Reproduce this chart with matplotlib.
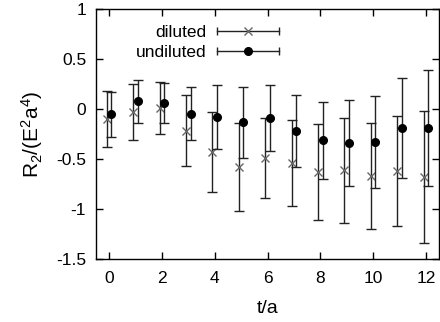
import numpy as np
import matplotlib
matplotlib.use("Agg")
import matplotlib.pyplot as plt
from matplotlib.legend_handler import HandlerBase
from matplotlib.lines import Line2D

plt.rcParams['font.family'] = ['Liberation Sans', 'DejaVu Sans']
plt.rcParams['mathtext.fontset'] = 'custom'
plt.rcParams['mathtext.rm'] = 'Liberation Sans'
plt.rcParams['mathtext.it'] = 'Liberation Sans'

# data
t = np.arange(0, 13)
diluted = [-0.10, -0.03, 0.01, -0.22, -0.43, -0.58, -0.49, -0.54, -0.635, -0.615, -0.67, -0.62, -0.68]
diluted_err = [0.28, 0.28, 0.26, 0.355, 0.40, 0.44, 0.40, 0.43, 0.48, 0.525, 0.53, 0.55, 0.66]
undiluted = [-0.055, 0.075, 0.06, -0.05, -0.08, -0.135, -0.09, -0.22, -0.315, -0.34, -0.33, -0.19, -0.19]
undiluted_err = [0.225, 0.215, 0.20, 0.265, 0.32, 0.355, 0.33, 0.36, 0.385, 0.43, 0.46, 0.50, 0.58]
shift = 0.09


class GnuErrHandler(HandlerBase):
    # gnuplot-like key sample: horizontal bar with end ticks and the point in the middle
    def create_artists(self, legend, orig_handle, xdescent, ydescent,
                       width, height, fontsize, trans):
        y = height / 2 - ydescent
        x0, x1 = -xdescent, width - xdescent
        bar = Line2D([x0, x1], [y, y], color='#222222', lw=1, transform=trans)
        ends = Line2D([x0, x1], [y, y], ls='', marker='|', ms=6, mew=1,
                      color='#222222', transform=trans)
        pt = Line2D([(x0 + x1) / 2], [y], ls='', marker=orig_handle.get_marker(),
                    ms=orig_handle.get_markersize(), color=orig_handle.get_color(),
                    mew=orig_handle.get_markeredgewidth(), transform=trans)
        return [bar, ends, pt]


fig = plt.figure(figsize=(4.4, 3.22), dpi=100)
ax = fig.add_axes([0.218, 0.196, 0.78, 0.776])

ax.errorbar(t - shift, diluted, yerr=diluted_err, fmt='none', ecolor='#222222',
            elinewidth=1, capsize=3.4, capthick=1)
ax.plot(t - shift, diluted, ls='', marker='x', ms=6, mew=1, color='#666666')
ax.errorbar(t + shift, undiluted, yerr=undiluted_err, fmt='none', ecolor='#222222',
            elinewidth=1, capsize=3.4, capthick=1)
ax.plot(t + shift, undiluted, ls='', marker='o', ms=5.5, color='black')

h1 = Line2D([], [], ls='', marker='x', ms=6, mew=1, color='#666666')
h2 = Line2D([], [], ls='', marker='o', ms=5.5, mew=1, color='black')
ax.legend([h1, h2], ['diluted', 'undiluted'], loc='upper left',
          bbox_to_anchor=(0.07, 1.0), frameon=False, markerfirst=False,
          handlelength=3.6, handletextpad=0.6, labelspacing=0.3,
          fontsize=12.5, handler_map={Line2D: GnuErrHandler()})

ax.set_xlim(-0.5, 12.5)
ax.set_ylim(-1.5, 1)
ax.set_xticks(np.arange(0, 13, 2))
ax.set_yticks([-1.5, -1, -0.5, 0, 0.5, 1])
ax.set_yticklabels(['-1.5', '-1', '-0.5', '0', '0.5', '1'])
ax.tick_params(direction='in', top=True, right=True, length=5, width=1,
               labelsize=12.5)
ax.tick_params(axis='x', pad=9)
ax.tick_params(axis='y', pad=7)
for s in ax.spines.values():
    s.set_linewidth(1)

ax.set_xlabel('t/a', fontsize=14, labelpad=10)
ax.set_ylabel(r'R$_2$/(E$^2$a$^4$)', fontsize=15, labelpad=8)

fig.savefig('out.png', dpi=100)
